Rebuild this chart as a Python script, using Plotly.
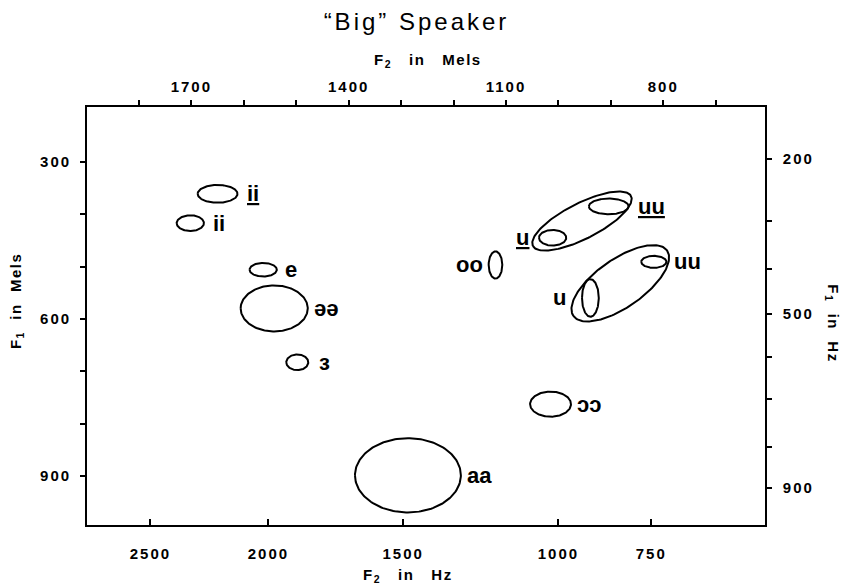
import numpy as np
import plotly.graph_objects as go

# ---------------- data ----------------
# vowel ellipses: centre F2 (mels), centre F1 (mels), semi-axes (mels)
vowel_labels = ["<u>ii</u>", "ii", "e", "əə", "ɜ", "aa", "ɔɔ", "oo", "<u>u</u>", "<u>uu</u>", "uu", "u"]
vowel_f2 = [1650, 1702, 1563, 1542, 1498, 1287, 1015, 1120, 1011, 904, 818, 939]
vowel_f1 = [361, 417, 506, 580, 683, 899, 763, 497, 445, 385, 491, 560]
vowel_r2 = [38, 26, 26, 64, 21, 101, 39, 13, 26, 38, 24, 16]
vowel_r1 = [17, 15, 13, 44, 15, 71, 24, 26, 15, 15, 11.5, 36]

# grouping ellipses (unlabeled): centre, semi-axes (mels), tilt (deg)
group_f2 = [955, 882]
group_f1 = [413, 532]
group_a = [105, 109]
group_b = [34, 46]
group_tilt = [27, 35]

# axis ticks
top_mel_ticks = [1800, 1700, 1600, 1500, 1400, 1300, 1200, 1100, 1000, 900, 800, 700]
top_mel_labels = ["", "1700", "", "", "1400", "", "", "1100", "", "", "800", ""]
bottom_hz_pos = [1778, 1553, 1296, 1000, 823]
bottom_hz_labels = ["2500", "2000", "1500", "1000", "750"]
left_mel_ticks = [300, 400, 500, 600, 700, 800, 900]
left_mel_labels = ["300", "", "", "600", "", "", "900"]
right_hz_pos = [294, 412, 504, 590, 673, 753, 845, 923]
right_hz_labels = ["200", "", "", "500", "", "", "", "900"]

# label placement (style): side of ellipse and gap in px
label_side = ["r", "r", "r", "r", "r", "r", "r", "l", "l", "r", "r", "l"]
label_gap = [8, 7, 6, 4, 9, 4, 4, 4, 8, 7, 6, 14]

X_RANGE = [1899, 606]
Y_RANGE = [994, 195]


def spaced(s, px):
    return s if s == "" else f'<span style="letter-spacing:{px}px">{s}</span>'


fig = go.Figure()
t = np.linspace(0, 2 * np.pi, 181)


def ellipse(cx, cy, a, b, deg):
    th = np.deg2rad(deg)
    x = cx + a * np.cos(th) * np.cos(t) - b * np.sin(th) * np.sin(t)
    y = cy + a * np.sin(th) * np.cos(t) + b * np.cos(th) * np.sin(t)
    return x, y


for cx, cy, a, b in zip(vowel_f2, vowel_f1, vowel_r2, vowel_r1):
    x, y = ellipse(cx, cy, a, b, 0)
    fig.add_trace(go.Scatter(x=x, y=y, mode="lines", line=dict(color="black", width=2),
                             hoverinfo="skip", showlegend=False))
for cx, cy, a, b, d in zip(group_f2, group_f1, group_a, group_b, group_tilt):
    x, y = ellipse(cx, cy, a, b, d)
    fig.add_trace(go.Scatter(x=x, y=y, mode="lines", line=dict(color="black", width=2),
                             hoverinfo="skip", showlegend=False))

# invisible trace for secondary axes
fig.add_trace(go.Scatter(x=[X_RANGE[0]], y=[Y_RANGE[0]], xaxis="x2", yaxis="y2",
                         mode="markers", marker=dict(opacity=0), hoverinfo="skip", showlegend=False))

label_font = dict(family="Liberation Sans, Arial, DejaVu Sans", size=22, color="black", weight="bold")
for lab, cx, cy, r2, side, gap in zip(vowel_labels, vowel_f2, vowel_f1, vowel_r2, label_side, label_gap):
    if side == "r":
        fig.add_annotation(x=cx - r2, y=cy, text=lab, showarrow=False, xanchor="left",
                           yanchor="middle", xshift=gap, font=label_font)
    else:
        fig.add_annotation(x=cx + r2, y=cy, text=lab, showarrow=False, xanchor="right",
                           yanchor="middle", xshift=-gap, font=label_font)

tick_font = dict(family="Liberation Sans, Arial", size=15, color="black", weight="bold")
title_font = dict(family="Liberation Sans, Arial", size=15, color="black", weight="bold")

axis_common = dict(showgrid=False, zeroline=False, showline=True, linecolor="black",
                   linewidth=1.7, tickcolor="black", tickwidth=1.5, tickfont=tick_font,
                   tickmode="array")

fig.update_layout(
    width=844, height=579,
    margin=dict(l=79, r=87, t=99, b=62),
    paper_bgcolor="white", plot_bgcolor="white",
    xaxis=dict(range=X_RANGE, tickvals=bottom_hz_pos,
               ticktext=[spaced(s, 2) for s in bottom_hz_labels],
               ticks="inside", ticklen=6, ticklabelstandoff=14, **axis_common),
    xaxis2=dict(range=X_RANGE, overlaying="x", side="top", tickvals=top_mel_ticks,
                ticktext=[spaced(s, 2) for s in top_mel_labels], ticks="outside", ticklen=5,
                ticklabelstandoff=2, **axis_common),
    yaxis=dict(range=Y_RANGE, tickvals=left_mel_ticks,
               ticktext=[spaced(s, 2) for s in left_mel_labels],
               ticks="outside", ticklen=5, ticklabelstandoff=6, **axis_common),
    yaxis2=dict(range=Y_RANGE, overlaying="y", side="right", tickvals=right_hz_pos,
                ticktext=[spaced(s, 2) for s in right_hz_labels], ticks="outside", ticklen=5,
                ticklabelstandoff=8, **axis_common),
    title=dict(text=spaced("\u201cBig\u201d Speaker", 3), x=0.484, xanchor="center", y=1 - 14 / 579,
               yanchor="middle", font=dict(family="Liberation Sans, Arial", size=24, color="black")),
)

fig.add_annotation(xref="paper", yref="paper", x=0.503, y=1.112,
                   text=spaced("F<sub>2</sub>   in   Mels", 1.5),
                   showarrow=False, xanchor="center", yanchor="middle", font=title_font)
fig.add_annotation(xref="paper", yref="paper", x=0.473, y=-0.12,
                   text=spaced("F<sub>2</sub>   in   Hz", 1.5),
                   showarrow=False, xanchor="center", yanchor="middle", font=title_font)
fig.add_annotation(xref="paper", yref="paper", x=-0.103, y=0.536,
                   text=spaced("F<sub>1</sub>  in  Mels", 1.5),
                   showarrow=False, xanchor="center", yanchor="middle", textangle=-90, font=title_font)
fig.add_annotation(xref="paper", yref="paper", x=1.100, y=0.483,
                   text=spaced("F<sub>1</sub>  in  Hz", 1.5),
                   showarrow=False, xanchor="center", yanchor="middle", textangle=90, font=title_font)

fig.write_html("out.html")
